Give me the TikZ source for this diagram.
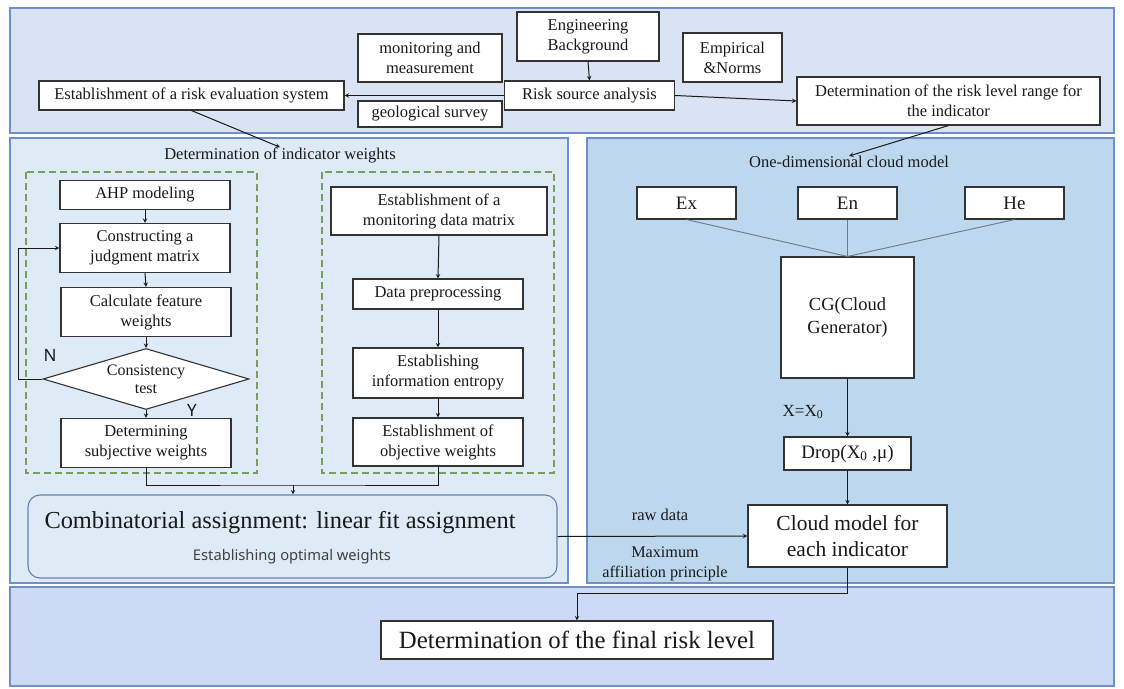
\documentclass[tikz,border=0pt]{standalone}
\usepackage{fontspec}
\setmainfont{Liberation Serif}
\setsansfont{Noto Sans}
\usetikzlibrary{shapes.geometric}
\definecolor{panelcolor1}{HTML}{DAE3F3}
\definecolor{panelcolor2}{HTML}{DEEBF7}
\definecolor{panelcolor3}{HTML}{BDD7EE}
\definecolor{panelcolor4}{HTML}{CDDAF6}
\definecolor{bordercolor}{HTML}{6F8FC9}
\definecolor{dashcolor}{HTML}{76A05A}
\definecolor{linkcolor}{HTML}{6A7A8A}

\begin{document}
\begin{tikzpicture}[x = 1pt, y = -1pt,
    box/.style = {draw = black!80, fill = white, line width = 1.1pt, rectangle, align = center, inner sep = 0pt, text = black!90, font = \fontsize{16.5pt}{20pt}\selectfont},
    panel/.style = {draw = bordercolor, line width = 1.3pt},
    group/.style = {draw = dashcolor, dash pattern = on 7pt off 4pt, line width = 1.1pt},
    combo/.style = {draw = bordercolor!90!black, fill = panelcolor2, line width = 1.1pt, rounded corners = 12pt, rectangle, inner sep = 0pt},
    link/.style = {->, > = stealth, line width = 1pt, draw = black!90},
    note/.style = {align = center, inner sep = 0pt, text = black!90, font = \fontsize{16.5pt}{20pt}\selectfont}]

        \fill [white] (0,0) rectangle (1124,688);
        \useasboundingbox (0,0) rectangle (1124,688);

        % Panels
        \draw [panel, fill = panelcolor1] (10,8) rectangle (1114,133);
        \draw [panel, fill = panelcolor2] (10,138) rectangle (568,583);
        \draw [panel, fill = panelcolor3] (587,138) rectangle (1114,583);
        \draw [panel, fill = panelcolor4] (10,587) rectangle (1114,686);

        % Dashed groups
        \draw [group] (26,172) rectangle (257,473);
        \draw [group] (322,172) rectangle (554,473);

        % Risk sources
        \node [box, minimum width = 305pt, minimum height = 29pt] (est) at (191.5,95.5) {Establishment of a risk evaluation system};
        \node [box, minimum width = 144pt, minimum height = 48pt] (mon) at (430,58) {monitoring and\\measurement};
        \node [box, minimum width = 144pt, minimum height = 26pt] (geo) at (430,114) {geological survey};
        \node [box, minimum width = 142pt, minimum height = 49pt] (eng) at (588,36.5) {Engineering\\Background};
        \node [box, minimum width = 170pt, minimum height = 29pt] (risk) at (589.5,95.5) {Risk source analysis};
        \node [box, minimum width = 99pt, minimum height = 49pt] (emp) at (732.5,57.5) {Empirical\\\&Norms};
        \node [box, minimum width = 303pt, minimum height = 48pt] (range) at (948.5,101) {Determination of the risk level range for\\the indicator};

        \draw [link] (eng.south) -- (risk.north);
        \draw [link] (risk.west) -- (est.east);
        \draw [link] (risk.east) -- (range.west);

        % Indicator weights
        \node [note] (wtitle) at (280,155) {Determination of indicator weights};
        \draw [link] (est.south) -- (wtitle.north);

        \node [box, minimum width = 170pt, minimum height = 29pt] (ahp) at (145,195) {AHP modeling};
        \node [box, minimum width = 170pt, minimum height = 49pt] (judge) at (145,248) {Constructing a\\judgment matrix};
        \node [box, minimum width = 170pt, minimum height = 49pt] (feat) at (146,312) {Calculate feature\\weights};
        \node [box, diamond, aspect = 3.3, minimum width = 206pt, minimum height = 61pt, font = \fontsize{16pt}{18pt}\selectfont] (cons) at (146,379) {Consistency\\test};
        \node [box, minimum width = 170pt, minimum height = 49pt] (subj) at (146,443) {Determining\\subjective weights};
        \node [note, font = \sffamily\fontsize{17pt}{19pt}\selectfont] (nmark) at (50,355) {N};
        \node [note, font = \sffamily\fontsize{17pt}{19pt}\selectfont] (ymark) at (192,410) {Y};

        \draw [link] (ahp.south) -- (judge.north);
        \draw [link] (judge.south) -- (feat.north);
        \draw [link] (feat.south) -- (cons.north);
        \draw [link] (cons.south) -- (subj.north);
        \draw [link] (cons.west) -- ++(-24,0) |- (judge.west);

        \node [box, minimum width = 216pt, minimum height = 48pt] (mat) at (439,211) {Establishment of a\\monitoring data matrix};
        \node [box, minimum width = 170pt, minimum height = 30pt] (pre) at (438,294) {Data preprocessing};
        \node [box, minimum width = 170pt, minimum height = 50pt] (ent) at (438,373) {Establishing\\information entropy};
        \node [box, minimum width = 170pt, minimum height = 48pt] (obj) at (438,442) {Establishment of\\objective weights};

        \draw [link] (mat.south) -- (pre.north);
        \draw [link] (pre.south) -- (ent.north);
        \draw [link] (ent.south) -- (obj.north);

        % Combination
        \node [combo, minimum width = 529pt, minimum height = 83pt] (combo) at (292.5,536.5) {};
        \node [note, font = \fontsize{24.4pt}{28pt}\selectfont] (combomain) at (280,523) {Combinatorial assignment: linear fit assignment};
        \node [note, text = black!75, font = \sffamily\fontsize{14.7pt}{17pt}\selectfont] (combosub) at (292,557) {Establishing optimal weights};

        \coordinate (merge) at (293,485);
        \draw [line width = 1pt, black!90] (subj.south) |- (merge) -| (obj.south);
        \draw [link] (merge) -- (merge |- combo.north);

        % Cloud model
        \node [note] (ctitle) at (849,162) {One-dimensional cloud model};
        \draw [link] (range.south) -- (ctitle.north);

        \node [box, minimum width = 99pt, minimum height = 32pt, font = \fontsize{19pt}{21pt}\selectfont] (ex) at (686.5,203) {Ex};
        \node [box, minimum width = 99pt, minimum height = 32pt, font = \fontsize{19pt}{21pt}\selectfont] (en) at (847.5,203) {En};
        \node [box, minimum width = 99pt, minimum height = 32pt, font = \fontsize{19pt}{21pt}\selectfont] (he) at (1014.5,203) {He};
        \node [box, minimum width = 133pt, minimum height = 121pt, font = \fontsize{18.5pt}{23pt}\selectfont] (cg) at (847.5,317.5) {CG(Cloud\\Generator)};
        \node [box, minimum width = 127pt, minimum height = 33pt, font = \fontsize{19pt}{21pt}\selectfont] (drop) at (847.5,453.5) {Drop(X\textsubscript{0} ,μ)};
        \node [box, minimum width = 199pt, minimum height = 62pt, font = \fontsize{21.5pt}{26pt}\selectfont] (cind) at (847.5,536) {Cloud model for\\each indicator};

        \draw [linkcolor, line width = 0.9pt] (ex.south) -- (cg.north);
        \draw [linkcolor, line width = 0.9pt] (en.south) -- (cg.north);
        \draw [linkcolor, line width = 0.9pt] (he.south) -- (cg.north);
        \draw [link] (cg.south) -- (drop.north);
        \draw [link] (drop.south) -- (cind.north);
        \draw [link] (combo.east) -- (cind.west);

        \node [note, font = \fontsize{17pt}{19pt}\selectfont] (xeq) at (803,412) {X=X\textsubscript{0}};
        \node [note] (raw) at (660,515) {raw data};
        \node [note, font = \fontsize{16.2pt}{20pt}\selectfont] (maxaff) at (665,564) {Maximum\\affiliation principle};

        % Final level
        \node [box, minimum width = 392pt, minimum height = 38pt, font = \fontsize{24.8pt}{28pt}\selectfont] (final) at (577,640) {Determination of the final risk level};
        \draw [link] (cind.south) -- ++(0,26) -| (final.north);

    \end{tikzpicture}
\end{document}
